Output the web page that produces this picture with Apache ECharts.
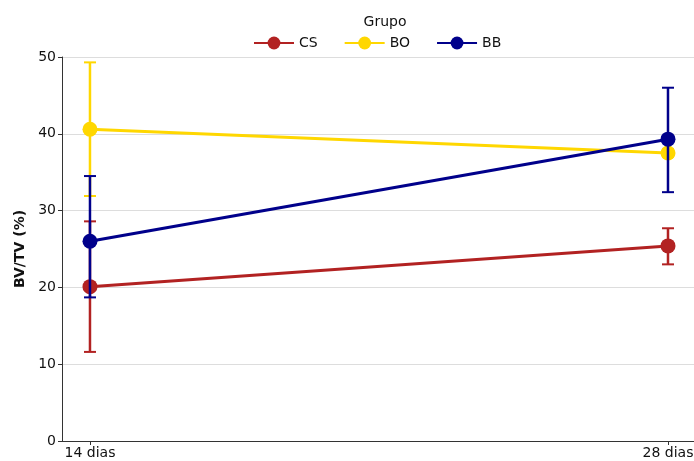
<!DOCTYPE html>
<html>
<head>
<meta charset="utf-8">
<script src="https://cdn.jsdelivr.net/npm/echarts@6/dist/echarts.min.js"></script>
<style>
  html, body { margin: 0; padding: 0; background: #fff; }
  #chart { width: 694px; height: 461px; }
</style>
</head>
<body>
<div id="chart"></div>
<script>
// categories on the x axis
const categories = ['14 dias', '28 dias']
const groups = ['CS', 'BO', 'BB']
const colors = ['#b22222', '#ffd700', '#00008b']

// means per group
const meanCS = [20.1, 25.4]
const meanBO = [40.6, 37.5]
const meanBB = [26.0, 39.3]

// error bar bounds (low / high)
const lowCS = [11.6, 23.0]
const highCS = [28.6, 27.7]
const lowBO = [31.9, 37.0]
const highBO = [49.3, 38.0]
const lowBB = [18.7, 32.4]
const highBB = [34.5, 46.0]

const yTicks = [0, 10, 20, 30, 40, 50]

const means = [meanCS, meanBO, meanBB]
const lows = [lowCS, lowBO, lowBB]
const highs = [highCS, highBO, highBB]

const chart = echarts.init(document.getElementById('chart'))

const errorSeries = (idx) => ({
  type: 'custom',
  name: groups[idx],
  z: 2 + idx * 2,
  silent: true,
  itemStyle: { color: colors[idx] },
  data: categories.map((c, i) => [i, lows[idx][i], highs[idx][i]]),
  renderItem: (params, api) => {
    const lo = api.coord([api.value(0), api.value(1)])
    const hi = api.coord([api.value(0), api.value(2)])
    const cap = 6
    const style = { stroke: colors[idx], lineWidth: 2.5 }
    return {
      type: 'group',
      children: [
        { type: 'line', shape: { x1: lo[0], y1: lo[1], x2: hi[0], y2: hi[1] }, style },
        { type: 'line', shape: { x1: lo[0] - cap, y1: lo[1], x2: lo[0] + cap, y2: lo[1] }, style: { stroke: colors[idx], lineWidth: 2 } },
        { type: 'line', shape: { x1: hi[0] - cap, y1: hi[1], x2: hi[0] + cap, y2: hi[1] }, style: { stroke: colors[idx], lineWidth: 2 } }
      ]
    }
  }
})

const lineSeries = (idx) => ({
  type: 'line',
  name: groups[idx],
  z: 3 + idx * 2,
  data: categories.map((c, i) => [i, means[idx][i]]),
  symbol: 'circle',
  symbolSize: 15,
  itemStyle: { color: colors[idx] },
  lineStyle: { color: colors[idx], width: 3 },
  emphasis: { disabled: true }
})

// line series first so the legend picks up their line+marker icon
const series = []
for (let i = 0; i < groups.length; i++) series.push(lineSeries(i))
for (let i = 0; i < groups.length; i++) series.push(errorSeries(i))

chart.setOption({
  animation: false,
  textStyle: { fontFamily: 'DejaVu Sans' },
  title: {
    text: 'Grupo',
    left: 380,
    textAlign: 'center',
    top: 10,
    textStyle: { fontSize: 14, fontWeight: 'normal', color: '#111' }
  },
  legend: {
    top: 31,
    left: 248,
    itemGap: 26,
    itemWidth: 40,
    itemHeight: 16,
    data: groups,
    textStyle: { fontSize: 14, color: '#111' }
  },
  grid: { left: 62, right: 0, top: 57, bottom: 20, outerBoundsMode: 'none', containLabel: false },
  xAxis: {
    type: 'value',
    min: -0.0484,
    max: 1.045,
    splitLine: { show: false },
    axisLine: { lineStyle: { color: '#333', width: 1 } },
    axisTick: { show: true, customValues: [0, 1], length: 4, lineStyle: { color: '#333' } },
    axisLabel: {
      customValues: [0, 1],
      formatter: (v) => categories[Math.round(v)],
      color: '#111',
      fontSize: 14,
      margin: 5
    }
  },
  yAxis: {
    type: 'value',
    min: 0,
    max: 50,
    interval: 10,
    name: 'BV/TV (%)',
    nameLocation: 'middle',
    nameGap: 35,
    nameTextStyle: { fontWeight: 'bold', fontSize: 14, color: '#111' },
    axisLine: { show: true, onZero: false, lineStyle: { color: '#333', width: 1 } },
    axisTick: { show: true, length: 4, lineStyle: { color: '#333' } },
    axisLabel: {
      color: '#111',
      fontSize: 14,
      margin: 6,
      formatter: (v) => yTicks.includes(v) ? String(v) : ''
    },
    splitLine: { show: true, lineStyle: { color: '#dddddd', width: 1 } }
  },
  series
})
</script>
</body>
</html>
